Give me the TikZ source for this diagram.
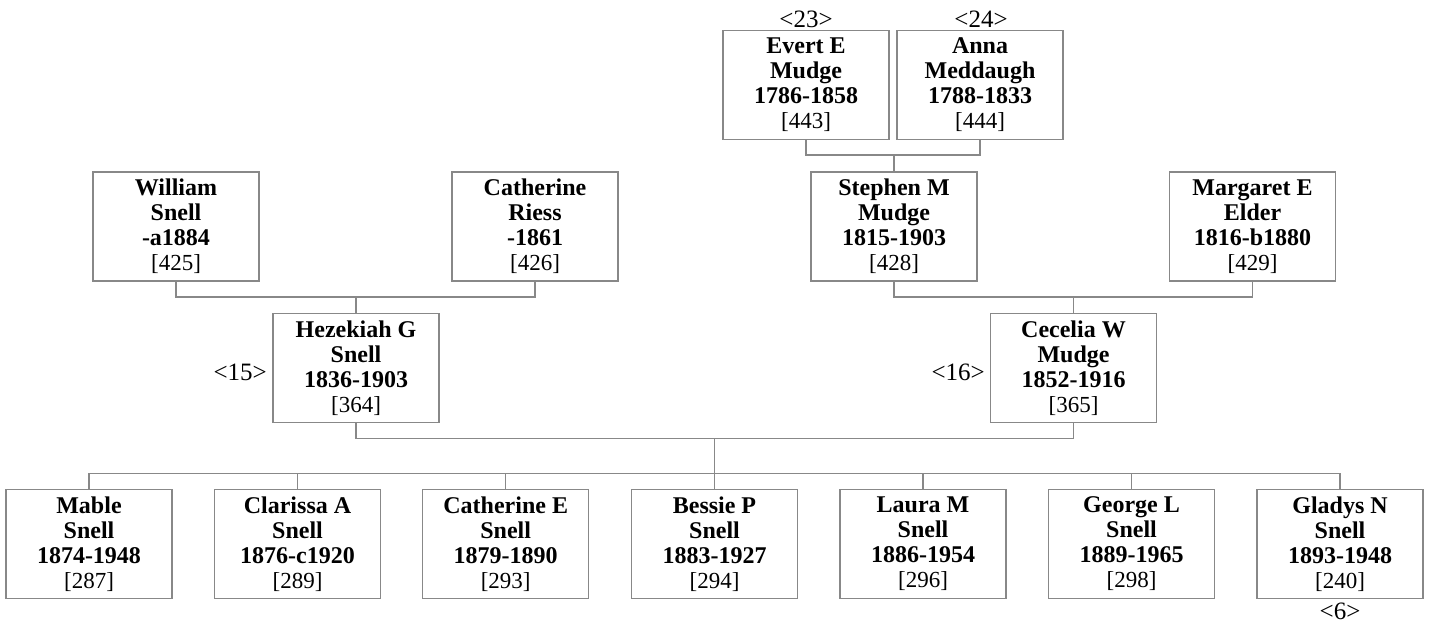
\documentclass[tikz,border=0pt]{standalone}
\usepackage{fontspec}
\setmainfont{Liberation Serif}
\definecolor{boxgray}{RGB}{136,136,136}
\tikzset{
  person/.style={draw=boxgray, line width=1.2bp, rectangle, minimum width=166bp, minimum height=109bp,
    inner sep=0pt, align=center, font=\fontsize{24bp}{25bp}\selectfont},
  link/.style={draw=boxgray, line width=1.2bp},
  tag/.style={inner sep=0pt, font=\fontsize{25bp}{25bp}\selectfont}
}
\newcommand{\pbox}[4]{\textbf{#1}\\\textbf{#2}\\\textbf{#3}\\{\fontsize{23bp}{25bp}\selectfont[#4]}}
\begin{document}
\begin{tikzpicture}[x=1bp, y=-1bp]
\useasboundingbox (0,0) rectangle (1429,624);
% generation 1
\node[person] (evert) at (806,85) {\pbox{Evert E}{Mudge}{1786-1858}{443}};
\node[person] (anna) at (980,85) {\pbox{Anna}{Meddaugh}{1788-1833}{444}};
% generation 2
\node[person] (william) at (176,226.5) {\pbox{William}{Snell}{-a1884}{425}};
\node[person] (catr) at (535,226.5) {\pbox{Catherine}{Riess}{-1861}{426}};
\node[person] (stephen) at (894,226.5) {\pbox{Stephen M}{Mudge}{1815-1903}{428}};
\node[person] (marg) at (1252.5,226.5) {\pbox{Margaret E}{Elder}{1816-b1880}{429}};
% generation 3
\node[person] (hez) at (356,368) {\pbox{Hezekiah G}{Snell}{1836-1903}{364}};
\node[person] (cec) at (1073.5,368) {\pbox{Cecelia W}{Mudge}{1852-1916}{365}};
% children
\node[person] (mable) at (89,544) {\pbox{Mable}{Snell}{1874-1948}{287}};
\node[person] (clar) at (297.5,544) {\pbox{Clarissa A}{Snell}{1876-c1920}{289}};
\node[person] (cate) at (505.7,544) {\pbox{Catherine E}{Snell}{1879-1890}{293}};
\node[person] (bess) at (714.5,544) {\pbox{Bessie P}{Snell}{1883-1927}{294}};
\node[person] (laura) at (923,544) {\pbox{Laura M}{Snell}{1886-1954}{296}};
\node[person] (george) at (1131.5,544) {\pbox{George L}{Snell}{1889-1965}{298}};
\node[person] (gladys) at (1340,544) {\pbox{Gladys N}{Snell}{1893-1948}{240}};
% tags
\node[tag] (t23) at (806,19) {<23>};
\node[tag] (t24) at (981,19) {<24>};
\node[tag, anchor=east] (t15) at (267,372) {<15>};
\node[tag, anchor=east] (t16) at (985,372) {<16>};
\node[tag, anchor=base] (t6) at (1340,619) {<6>};
% connectors
\coordinate (m1) at (894,155);
\draw[link] (evert.south) |- (m1) -| (anna.south);
\draw[link] (m1) -- (stephen.north);
\coordinate (m2) at (356,297);
\draw[link] (william.south) |- (m2) -| (catr.south);
\draw[link] (m2) -- (hez.north);
\coordinate (m3) at (1073.5,297);
\draw[link] (stephen.south) |- (m3) -| (marg.south);
\draw[link] (m3) -- (cec.north);
\coordinate (m4) at (714.5,438.5);
\coordinate (m5) at (714.5,473.3);
\draw[link] (hez.south) |- (m4) -| (cec.south);
\draw[link] (m4) -- (m5);
\draw[link] (mable.north) |- (m5) -| (gladys.north);
\foreach \c in {clar,cate,bess,laura,george}
  \draw[link] (\c.north) -- (\c.north |- m5);
\end{tikzpicture}
\end{document}
